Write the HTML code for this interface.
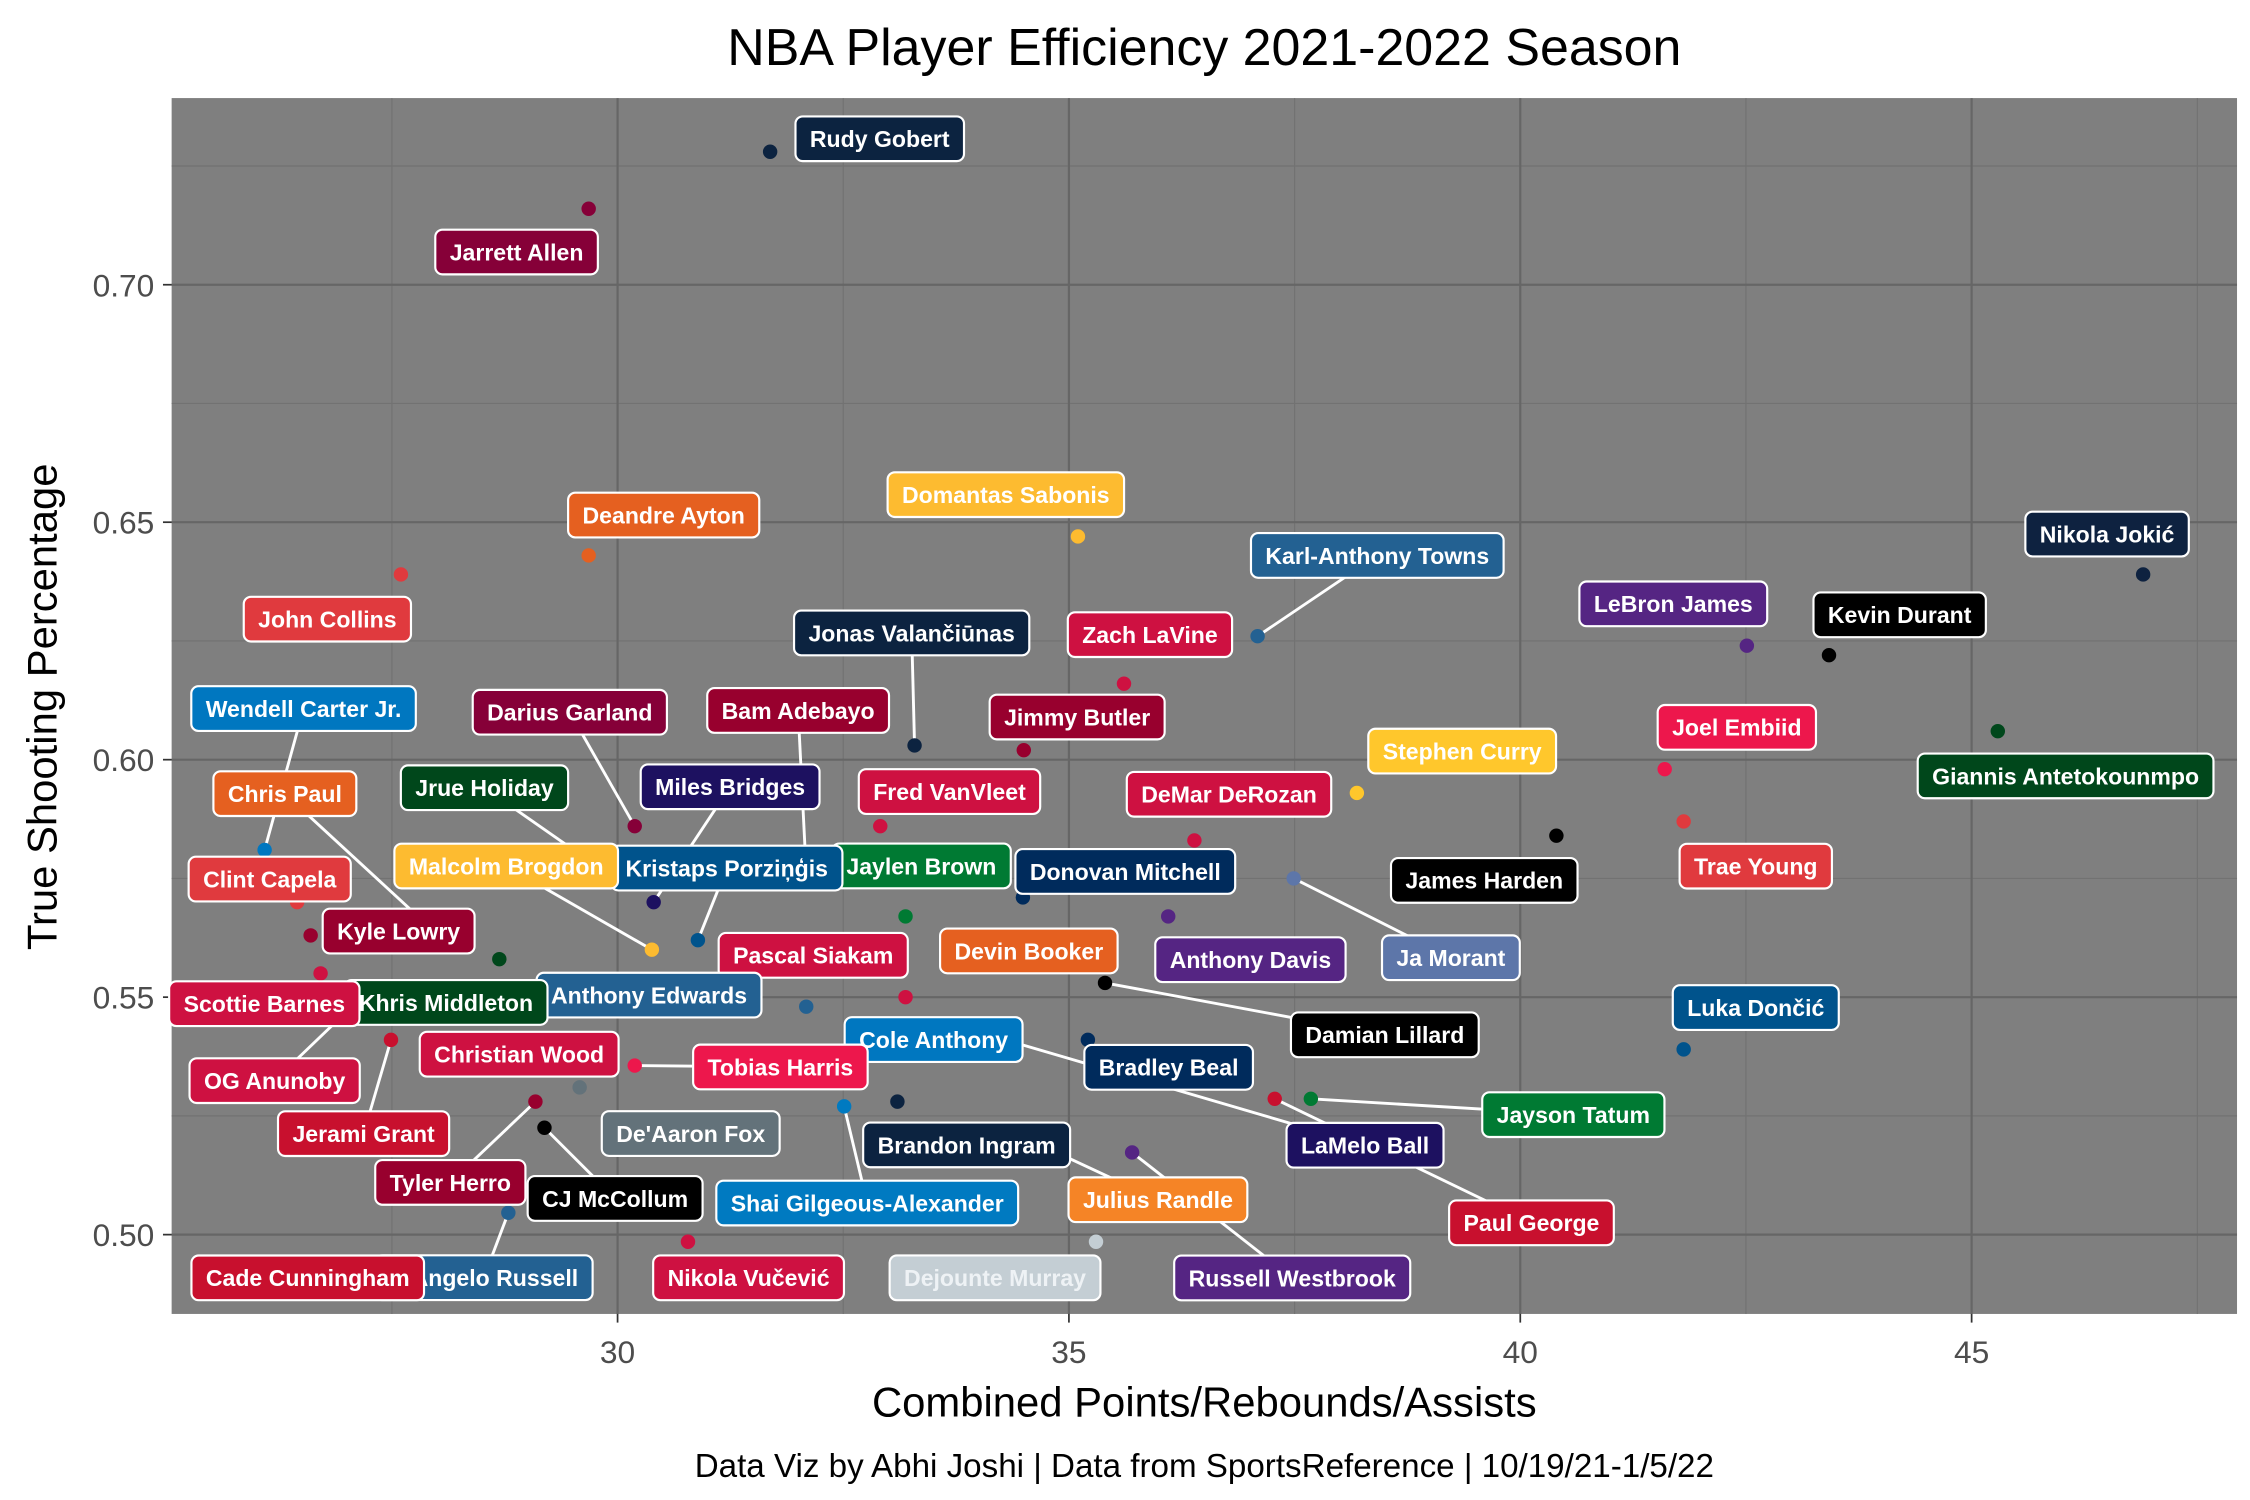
<!DOCTYPE html>
<html><head><meta charset="utf-8">
<style>
html,body{margin:0;padding:0;background:#fff;}
svg{display:block;}
text{font-family:"Liberation Sans","DejaVu Sans",sans-serif;}
</style></head>
<body>
<svg id="chart" width="2250" height="1500" viewBox="0 0 1560 1040" preserveAspectRatio="none" xmlns="http://www.w3.org/2000/svg">
  <rect x="0" y="0" width="1560" height="1040" fill="#ffffff"/>
  <text x="835" y="45" text-anchor="middle" font-size="36" fill="#000">NBA Player Efficiency 2021-2022 Season</text>
  <rect x="119" y="68" width="1432" height="843" fill="#7f7f7f"/>
  <g id="grid"></g>
  <g id="axes"></g>
  <g id="segments"></g>
  <g id="points"></g>
  <g id="labels"></g>
  <text x="835" y="982" text-anchor="middle" font-size="29" fill="#000">Combined Points/Rebounds/Assists</text>
  <text transform="translate(39,490) rotate(-90)" text-anchor="middle" font-size="29" fill="#000">True Shooting Percentage</text>
  <text x="835" y="1024" text-anchor="middle" font-size="23" fill="#000">Data Viz by Abhi Joshi | Data from SportsReference | 10/19/21-1/5/22</text>
</svg>
<script>
const players = ["Rudy Gobert","Jarrett Allen","Deandre Ayton","Domantas Sabonis","John Collins","Karl-Anthony Towns","Nikola Jokić","LeBron James","Kevin Durant","Jonas Valančiūnas","Zach LaVine","Jimmy Butler","Wendell Carter Jr.","Darius Garland","Bam Adebayo","Joel Embiid","Giannis Antetokounmpo","Stephen Curry","Fred VanVleet","DeMar DeRozan","Miles Bridges","Jrue Holiday","Chris Paul","Jaylen Brown","Kristaps Porziņģis","Malcolm Brogdon","Donovan Mitchell","James Harden","Trae Young","Ja Morant","Clint Capela","Kyle Lowry","Anthony Davis","Devin Booker","Damian Lillard","Pascal Siakam","Anthony Edwards","Khris Middleton","Scottie Barnes","OG Anunoby","Cole Anthony","LaMelo Ball","Christian Wood","Tobias Harris","Bradley Beal","Jerami Grant","De'Aaron Fox","Jayson Tatum","Paul George","Brandon Ingram","Luka Dončić","Tyler Herro","CJ McCollum","Shai Gilgeous-Alexander","Julius Randle","Russell Westbrook","D'Angelo Russell","Cade Cunningham","Nikola Vučević","Dejounte Murray"];
const pra = [31.69,29.68,29.68,35.10,27.60,37.09,46.90,42.51,43.42,33.29,35.61,34.50,26.09,30.19,32.08,41.60,45.29,38.19,32.91,36.39,30.40,29.74,27.96,33.19,30.89,30.38,34.49,40.40,41.81,37.49,26.45,26.60,36.10,34.54,35.40,33.19,32.09,28.69,26.71,27.00,32.75,34.19,28.91,30.19,35.21,27.49,29.58,37.68,37.28,33.10,41.81,29.09,29.19,32.51,34.58,35.70,28.79,26.36,30.78,35.30];
const tsPct = [0.728,0.716,0.643,0.647,0.639,0.626,0.639,0.624,0.622,0.603,0.616,0.602,0.581,0.586,0.580,0.598,0.606,0.593,0.586,0.583,0.570,0.578,0.564,0.567,0.562,0.560,0.571,0.584,0.587,0.575,0.570,0.563,0.567,0.557,0.553,0.550,0.548,0.558,0.555,0.547,0.5435,0.5416,0.5386,0.5356,0.541,0.541,0.531,0.5286,0.5286,0.528,0.539,0.528,0.5225,0.527,0.5198,0.5173,0.5046,0.4909,0.4985,0.4985];
const teamColors = ["#0c2340","#860038","#e56020","#fdbb30","#e03a3e","#236192","#0e2240","#552583","#000000","#0c2340","#ce1141","#98002e","#0077c0","#860038","#98002e","#ed174c","#00471b","#ffc72c","#ce1141","#ce1141","#1d1160","#00471b","#e56020","#007a33","#00538c","#fdbb30","#002b5c","#000000","#e03a3e","#5d76a9","#e03a3e","#98002e","#552583","#e56020","#000000","#ce1141","#236192","#00471b","#ce1141","#ce1141","#0077c0","#1d1160","#ce1141","#ed174c","#002b5c","#c8102e","#63727a","#007a33","#c8102e","#0c2340","#00538c","#98002e","#000000","#007ac1","#f58426","#552583","#236192","#c8102e","#ce1141","#c4ced4"];
const xTicks = [30,35,40,45];
const yTicks = [0.50,0.55,0.60,0.65,0.70];
const yTickLabels = ["0.50","0.55","0.60","0.65","0.70"];

// layout: label center offsets (px) relative to the point, and whether a segment is drawn
const labelOffsets = [[76,-9],[-50,30],[52,-28],[-50,-29],[-51,31],[83,-56],[-25,-28],[-51,-29],[49,-28],[-2,-78],[18,-34],[37,-23],[27,-98],[-45,-79],[-5,-100],[50,-29],[47,31],[73,-29],[48,-24],[24,-32],[53,-80],[-76,-53],[-103,-95],[11,-35],[20,-50],[-101,-58],[71,-18],[-50,31],[50,31],[109,55],[-19,-16],[61,-3],[57,30],[1,-9],[194,36],[-64,-29],[-109,-8],[-37,30],[-39,21],[-50,48],[47,8],[256,75],[0,2],[101,1],[56,19],[-19,65],[77,32],[182,11],[178,86],[48,30],[50,-29],[-59,56],[49,49],[16,67],[88,41],[111,87],[-17,45],[13,0],[42,25],[-70,25]];
const hasSegment = [0,0,0,0,0,1,0,0,0,1,0,0,1,1,1,0,0,0,0,0,1,1,1,0,1,1,0,0,0,1,0,0,0,0,1,0,0,0,0,1,0,1,0,1,0,1,0,1,1,0,0,1,1,1,1,1,1,0,0,0];
const drawOrder = [0,1,2,3,4,5,6,7,8,9,10,11,12,13,14,15,16,17,18,19,20,21,22,23,24,25,26,27,28,29,30,31,32,33,34,35,36,37,38,39,40,41,42,43,44,45,46,47,48,49,50,51,52,53,54,55,56,57,58,59];

const NS = "http://www.w3.org/2000/svg";
const P = {left:119,right:1551,top:68,bottom:911};
const X = {min:25.06,max:47.94};
const Y = {min:0.4833,max:0.7393};
function sx(v){return P.left+(v-X.min)/(X.max-X.min)*(P.right-P.left);}
function sy(v){return P.bottom-(v-Y.min)/(Y.max-Y.min)*(P.bottom-P.top);}
function mk(tag,attrs,parent){const e=document.createElementNS(NS,tag);for(const k in attrs)e.setAttribute(k,attrs[k]);parent.appendChild(e);return e;}

const grid=document.getElementById('grid');
const axes=document.getElementById('axes');
for(let i=0;i<xTicks.length+1;i++){
  const v=(xTicks[0]-2.5)+i*5;
  if(v<X.min||v>X.max)continue;
  const l=mk('line',{x1:sx(v),x2:sx(v),y1:P.top,y2:P.bottom,stroke:'#727272','stroke-width':0.8},grid);
  
  
}
for(let i=0;i<yTicks.length;i++){
  const v=yTicks[i]+0.025;
  if(v<Y.min||v>Y.max)continue;
  const l=mk('line',{x1:P.left,x2:P.right,y1:sy(v),y2:sy(v),stroke:'#727272','stroke-width':0.8},grid);
  
  
}
xTicks.forEach(v=>{
  const l=mk('line',{x1:sx(v),x2:sx(v),y1:P.top,y2:P.bottom,stroke:'#666666','stroke-width':1.5},grid);
  
  
  const t=mk('line',{x1:sx(v),x2:sx(v),y1:P.bottom,y2:P.bottom+6,stroke:'#333','stroke-width':1.2},axes);
  
  
  const tx=mk('text',{x:sx(v),y:P.bottom+34,'text-anchor':'middle','font-size':22,fill:'#4d4d4d'},axes);
  tx.textContent=String(v);
  
  
});
yTicks.forEach((v,i)=>{
  const l=mk('line',{x1:P.left,x2:P.right,y1:sy(v),y2:sy(v),stroke:'#666666','stroke-width':1.5},grid);
  
  
  const t=mk('line',{x1:P.left-6,x2:P.left,y1:sy(v),y2:sy(v),stroke:'#333','stroke-width':1.2},axes);
  
  
  const tx=mk('text',{x:P.left-12,y:sy(v)+8,'text-anchor':'end','font-size':22,fill:'#4d4d4d'},axes);
  tx.textContent=yTickLabels[i];
  
  
});

const segG=document.getElementById('segments');
const ptG=document.getElementById('points');
const lbG=document.getElementById('labels');
const H=31;
drawOrder.forEach(i=>{
  const px=sx(pra[i]), py=sy(tsPct[i]);
  const lx=px+labelOffsets[i][0], ly=py+labelOffsets[i][1];
  if(hasSegment[i]){
    const s=mk('line',{x1:px,y1:py,x2:lx,y2:ly,stroke:'#ffffff','stroke-width':2},segG);
    
    
  }
  const c=mk('circle',{cx:px,cy:py,r:5,fill:teamColors[i]},ptG);
  
  
  const g=mk('g',{},lbG);
  
  
  const r=mk('rect',{y:ly-H/2,height:H,rx:5,ry:5,fill:teamColors[i],stroke:'#ffffff','stroke-width':1.5},g);
  const t=mk('text',{x:lx,y:ly+5.8,'text-anchor':'middle','font-size':16,'font-weight':'bold',fill:(teamColors[i]==='#c4ced4'?'#eef2f5':'#ffffff')},g);
  t.textContent=players[i];
  let w=t.getComputedTextLength();
  if(!w||isNaN(w))w=players[i].length*8.5;
  const W=w+20;
  r.setAttribute('x',lx-W/2);
  r.setAttribute('width',W);
});
</script>
</body></html>
